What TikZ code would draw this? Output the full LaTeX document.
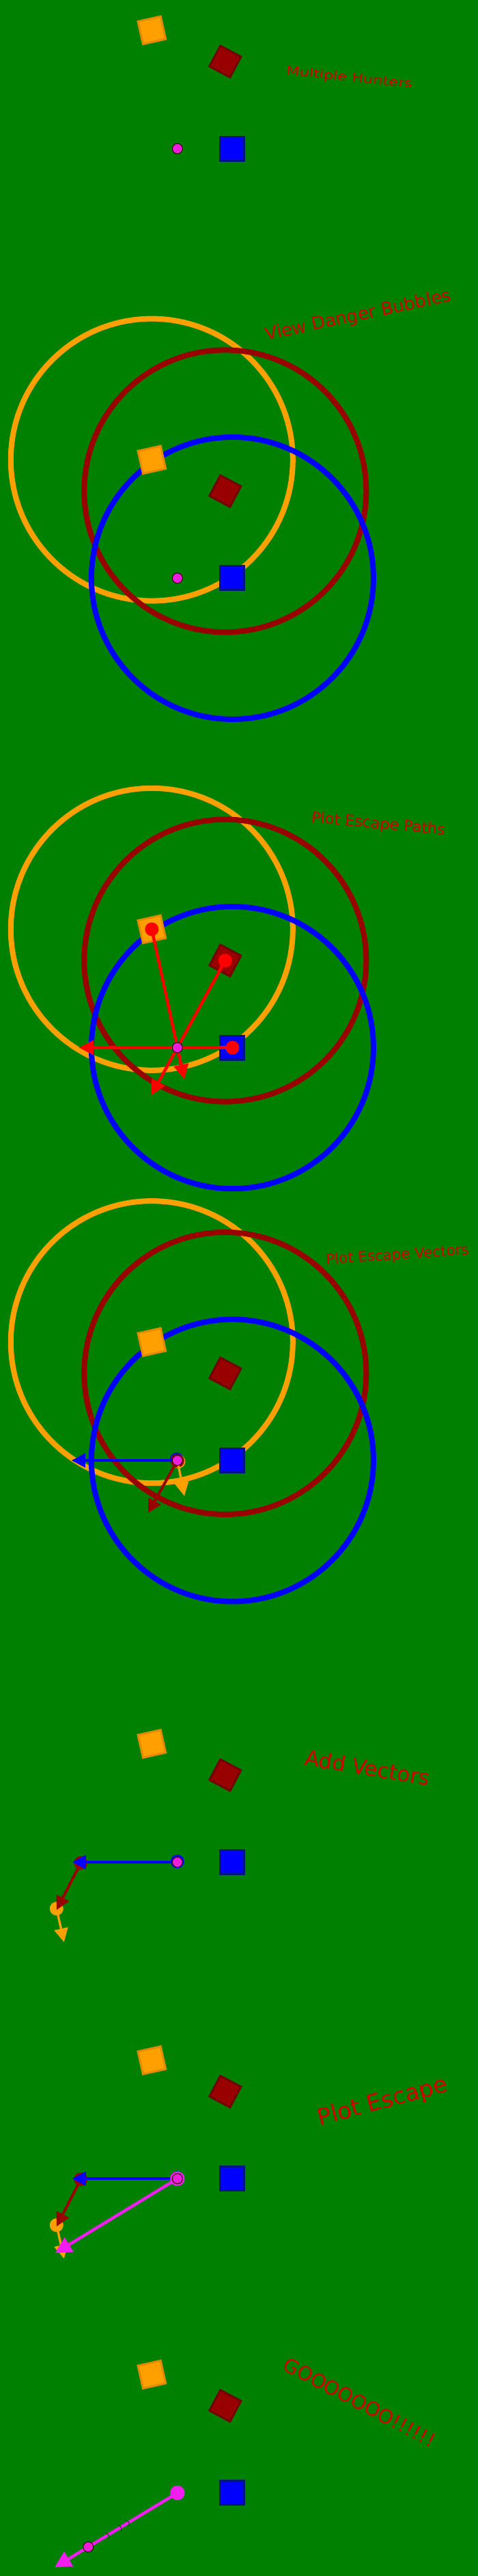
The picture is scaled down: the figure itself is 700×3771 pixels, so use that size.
\documentclass[tikz,border=0pt]{standalone}
\usepackage{fontspec}
\setmainfont{DejaVu Sans}
\usetikzlibrary{arrows.meta, calc}
\definecolor{field}{RGB}{0,128,0}
\definecolor{huntorange}{RGB}{255,160,0}
\definecolor{huntorangedk}{RGB}{228,138,0}
\definecolor{huntred}{RGB}{153,0,0}
\definecolor{huntreddk}{RGB}{115,0,0}
\definecolor{huntblue}{RGB}{0,0,255}
\definecolor{huntbluedk}{RGB}{0,20,130}
\definecolor{preypink}{RGB}{235,30,220}
\definecolor{escpink}{RGB}{240,30,240}
\definecolor{pathred}{RGB}{255,0,0}
\definecolor{captionred}{RGB}{210,0,0}
\tikzset{
    hunter/.style={rectangle, line width=3pt, inner sep=0pt, minimum size=34pt},
    hunto/.style={hunter, draw=huntorangedk, fill=huntorange, rotate=12.6},
    huntr/.style={hunter, draw=huntreddk, fill=huntred, rotate=-28},
    huntb/.style={hunter, draw=huntbluedk, fill=huntblue, minimum size=35pt},
    prey/.style={circle, draw=black!80!red, line width=1pt, fill=preypink,
                 inner sep=0pt, minimum size=15pt},
    bubble/.style={line width=8pt},
    tailring/.style={circle, inner sep=0pt, minimum size=20pt},
    threat/.style={circle, fill=pathred, inner sep=0pt, minimum size=20pt},
    esc/.style={-{Triangle[length=22pt,width=21pt]}, line width=4.5pt, pathred},
    vec/.style={-{Triangle[length=20pt,width=20pt]}, line width=4pt},
    runvec/.style={-{Triangle[length=24pt,width=24pt]}, line width=4.5pt, escpink},
    caption/.style={text=captionred, inner sep=0pt},
    speed/.style={draw=black!70!green, line width=1pt},
}

\begin{document}
\begin{tikzpicture}[x=1pt, y=-1pt]
    \fill[field] (0,0) rectangle (700,3771);

    % danger bubbles
    \foreach \y in {673.1, 1360.3, 1964.6} {
        \draw[bubble, huntorange] (222.3,\y) circle[radius=206.5pt];
        \draw[bubble, huntred] (329.8,\y+45.8) circle[radius=206.5pt];
        \draw[bubble, huntblue] (340.4,\y+173.3) circle[radius=206.5pt];
    }

    % hunters and prey spot, one set per frame
    \foreach \p/\y in {1/44.3, 2/673.1, 3/1360.3, 4/1964.6, 5/2552.7, 6/3016, 7/3476} {
        \node[hunto] (o\p) at (222.3,\y) {};
        \node[huntr] (r\p) at (329.8,\y+45.8) {};
        \node[huntb] (b\p) at (340.4,\y+173.3) {};
        \coordinate (d\p) at (259.8,\y+173.3);
    }

    % frame 1 and 2
    \node[prey] (p1) at (d1) {};
    \node[caption, font=\fontsize{22.5}{27}\selectfont, rotate=-6, yscale=0.78] (cap1) at (511.6,114.2) {Multiple Hunters};
    \node[prey] (p2) at (d2) {};
    \node[caption, font=\fontsize{26}{31}\selectfont, rotate=12] (cap2) at (524.6,462.6) {View Danger Bubbles};

    % frame 3: escape paths
    \node[threat] (x3o) at (o3) {};
    \node[threat] (x3r) at (r3) {};
    \node[threat] (x3b) at (b3) {};
    \coordinate (e3o) at ($(o3.center)!225pt!(d3)$);
    \coordinate (e3r) at ($(r3.center)!225pt!(d3)$);
    \coordinate (e3b) at ($(b3.center)!225pt!(d3)$);
    \draw[esc] (x3o.center) -- (e3o);
    \draw[esc] (x3r.center) -- (e3r);
    \draw[esc] (x3b.center) -- (e3b);
    \node[prey] (p3) at (d3) {};
    \node[caption, font=\fontsize{22.3}{27}\selectfont, rotate=-5.3] (cap3) at (553.9,1207) {Plot Escape Paths};

    % frame 4: escape vectors
    \coordinate (v4b) at ($(d4)+(-155,0)$);
    \coordinate (v4r) at ($(d4)+(-43,77)$);
    \coordinate (v4o) at ($(d4)+(10.2,52)$);
    \node[tailring, fill=huntblue] (t4b) at ($(d4)+(-1,-1.5)$) {};
    \node[tailring, fill=huntorange] (t4o) at ($(d4)+(1.5,1.5)$) {};
    \node[tailring, fill=huntred] (t4r) at ($(d4)+(0,0.5)$) {};
    \draw[vec, huntorange, line width=3.3pt] (d4) -- (v4o);
    \draw[vec, huntred] (d4) -- (v4r);
    \draw[vec, huntblue] (d4) -- (v4b);
    \node[prey] (p4) at (d4) {};
    \node[caption, font=\fontsize{21.4}{26}\selectfont, rotate=4] (cap4) at (582,1838) {Plot Escape Vectors};

    % frame 5 and 6: head to tail
    \foreach \p in {5,6} {
        \coordinate (v\p b) at ($(d\p)+(-154,0)$);
        \coordinate (s\p r) at ($(d\p)+(-141.5,1)$);
        \coordinate (v\p r) at ($(d\p)+(-177,70)$);
        \coordinate (s\p o) at ($(d\p)+(-177,68)$);
        \coordinate (v\p o) at ($(d\p)+(-166,117)$);
        \node[tailring, fill=huntred] (t\p r) at (s\p r) {};
        \node[tailring, fill=huntorange] (t\p o) at (s\p o) {};
        \node[tailring, fill=huntblue] (t\p b) at ($(d\p)+(0,-1)$) {};
        \draw[vec, huntorange, line width=3.3pt] (s\p o) -- (v\p o);
        \draw[vec, huntred] (s\p r) -- (v\p r);
        \draw[vec, huntblue] (d\p) -- (v\p b);
    }
    \node[prey] (p5) at (d5) {};
    \node[caption, font=\fontsize{31}{37}\selectfont, rotate=-9.5] (cap5) at (538.5,2587.7) {Add Vectors};

    \coordinate (v6m) at ($(d6)+(-179.1,109)$);
    \node[tailring, fill=escpink, minimum size=21.4pt] (t6m) at (d6) {};
    \draw[runvec] (d6) -- (v6m);
    \node[prey] (p6) at (d6) {};
    \node[caption, font=\fontsize{34}{40}\selectfont, rotate=15] (cap6) at (560.5,3077.6) {Plot Escape};

    % frame 7: run
    \coordinate (v7m) at ($(d7)+(-179.8,109)$);
    \node[circle, fill=escpink, inner sep=0pt, minimum size=21.5pt] (g7) at (d7) {};
    \draw[runvec] (g7.center) -- (v7m);
    \foreach \t [count=\k] in {0.398, 0.462, 0.565} {
        \coordinate (m\k) at ($(d7)!\t!(v7m)$);
        \draw[speed] ($(m\k)+(148.8:2.34)+(58.8:5.66)$) .. controls ($(m\k)+(-31.2:1.5)$) .. ($(m\k)+(148.8:2.34)+(238.8:5.66)$);
    }
    \node[prey] (p7) at ($(d7)!0.726!(v7m)$) {};
    \node[caption, font=\fontsize{28.4}{34}\selectfont, rotate=-27.8] (cap7) at (526.8,3516.7) {GOOOOOOO!!!!!!};
\end{tikzpicture}
\end{document}
